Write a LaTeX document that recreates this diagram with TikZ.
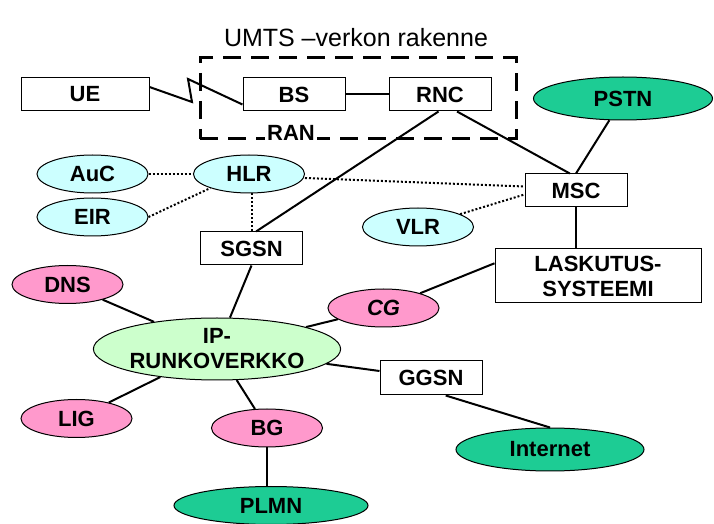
\documentclass[tikz,border=0pt]{standalone}
\usepackage{fontspec}
\setmainfont{Liberation Sans}
\usepackage{xcolor}
\usetikzlibrary{shapes.geometric}

\definecolor{umtsteal}{HTML}{1DCC94}
\definecolor{umtspink}{HTML}{FF99CC}
\definecolor{umtscyan}{HTML}{CCFFFF}
\definecolor{umtsgreen}{HTML}{CCFFCC}

\begin{document}
\begin{tikzpicture}[x=0.5pt, y=-0.5pt,
  every node/.style={font=\bfseries\fontsize{11}{12.5}\selectfont},
  box/.style={draw, line width=0.5pt, fill=white, inner sep=0pt,
    minimum width=51pt, minimum height=16.5pt, align=center},
  oval/.style={ellipse, draw, line width=0.5pt, inner sep=0pt,
    minimum width=55.5pt, minimum height=19pt, align=center},
  bigoval/.style={oval, fill=umtsteal, minimum height=21.5pt},
  link/.style={line width=1pt},
  dotlink/.style={line width=1pt, dash pattern=on 1pt off 1pt}]
  \useasboundingbox (0,0) rectangle (714,524);

  \node[font=\fontsize{12.5}{14}\selectfont] (title) at (356,38) {UMTS –verkon rakenne};

  % radioverkko
  \node[draw, line width=1.5pt, dash pattern=on 9pt off 5pt, minimum width=158pt,
    minimum height=40.5pt, inner sep=0pt] (ran) at (358,98.5) {};
  \node[fill=white, inner sep=1pt] (ranlabel) at (291,133) {RAN};

  \node[box, minimum width=64pt] (ue) at (85,94.5) {UE};
  \node[box] (bs) at (294,94.5) {BS};
  \node[box] (rnc) at (440,94.5) {RNC};
  \node[box] (msc) at (576,190.5) {MSC};
  \node[box] (sgsn) at (251.5,248.5) {SGSN};
  \node[box, minimum width=103pt, minimum height=27pt] (lask) at (598,276) {LASKUTUS-\\SYSTEEMI};
  \node[box, minimum height=17pt] (ggsn) at (431,378) {GGSN};

  \node[bigoval, minimum width=89.5pt] (pstn) at (623,98.5) {PSTN};
  \node[bigoval, minimum width=94pt] (internet) at (550,449.5) {Internet};
  \node[bigoval, minimum width=97pt, minimum height=19pt] (plmn) at (271,505.5) {PLMN};

  \node[oval, fill=umtscyan] (auc) at (92.5,174) {AuC};
  \node[oval, fill=umtscyan] (eir) at (92.5,217) {EIR};
  \node[oval, fill=umtscyan] (hlr) at (249,174) {HLR};
  \node[oval, fill=umtscyan] (vlr) at (418,227) {VLR};

  \node[oval, fill=umtspink] (dns) at (67.5,284.5) {DNS};
  \node[oval, fill=umtspink] (cg) at (383.5,308) {\itshape CG};
  \node[oval, fill=umtspink] (lig) at (76.5,418.5) {LIG};
  \node[oval, fill=umtspink] (bg) at (267,428) {BG};

  \node[oval, fill=umtsgreen, minimum width=111pt, minimum height=31pt] (ip) at (217,349) {IP-\\RUNKOVERKKO};

  % yhteydet
  \draw[link] ([yshift=3.75pt]ue.east) -- (192,102) -- (188,79) -- ([yshift=-5pt]bs.west);
  \draw[link] (bs) -- (rnc);
  \draw[link] (rnc.-95) -- (sgsn.75);
  \draw[link] (rnc.-45) -- (msc.110);
  \draw[link] (pstn) -- (msc.north);
  \draw[link] (msc.south) -- (msc.south |- lask.north);
  \draw[link] (cg) -- (lask.173);
  \draw[link] (ip) -- (cg);
  \draw[link] (ip) -- (dns);
  \draw[link] (ip) -- (sgsn.south);
  \draw[link] (ip) -- (lig);
  \draw[link] (ip) -- (bg);
  \draw[link] (bg.south) -- (bg.south |- plmn.north);
  \draw[link] (ip) -- ([yshift=3.5pt]ggsn.west);
  \draw[link] (ggsn.-50) -- (internet.north);

  \draw[dotlink] (auc) -- (hlr);
  \draw[dotlink] (eir.east) -- (hlr.-160);
  \draw[dotlink] (hlr.south -| sgsn.north) -- (sgsn.north);
  \draw[dotlink] ([yshift=-2pt]hlr.east) -- ([yshift=2pt]msc.west);
  \draw[dotlink] (vlr) -- ([yshift=-2pt]msc.west);
\end{tikzpicture}
\end{document}
